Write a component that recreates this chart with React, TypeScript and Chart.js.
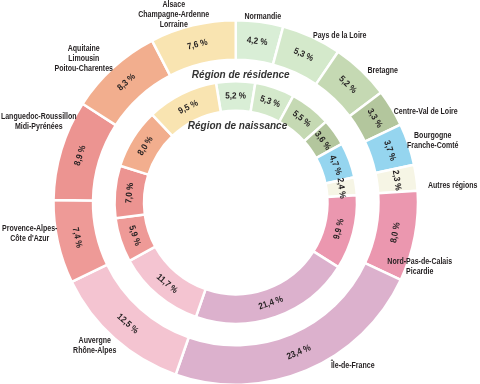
import React, { useEffect, useRef } from 'react';
import { Chart, registerables } from 'chart.js';

Chart.register(...registerables);

// ---- Data ----
const REGIONS: string[][] = [
  ['Normandie'],
  ['Pays de la Loire'],
  ['Bretagne'],
  ['Centre-Val de Loire'],
  ['Bourgogne', 'Franche-Comté'],
  ['Autres régions'],
  ['Nord-Pas-de-Calais', 'Picardie'],
  ['Île-de-France'],
  ['Auvergne', 'Rhône-Alpes'],
  ['Provence-Alpes-', "Côte d'Azur"],
  ['Languedoc-Roussillon', 'Midi-Pyrénées'],
  ['Aquitaine', 'Limousin', 'Poitou-Charentes'],
  ['Alsace', 'Champagne-Ardenne', 'Lorraine'],
];
const RESIDENCE = [4.2, 5.3, 5.2, 3.3, 3.7, 2.3, 8.0, 23.4, 12.5, 7.4, 8.9, 8.3, 7.6];
const NAISSANCE = [5.2, 5.3, 5.5, 3.6, 4.7, 2.4, 9.9, 21.4, 11.7, 5.9, 7.0, 8.0, 9.5];
const TITLES = ['Région de résidence', 'Région de naissance'];

// ---- Styles / layout ----
const COLORS = [
  '#d9eed6', '#d4e9cb', '#c5d9b3', '#b3c69d', '#95d5ef', '#f6f5e5', '#eb97af',
  '#dcb1cd', '#f4c4d1', '#ee9a97', '#ec9491', '#f2ae8e', '#f9e4b1',
];
// first-line centre of each region label, relative to the chart centre
const LABEL_OFFSETS: [number, number][] = [
  [27, -185.5], [104, -166.5], [147, -131.5], [190, -90.5], [197, -66.5], [217, -16.5],
  [184, 59.5], [117, 163], [-141, 138.5], [-206, 26.5], [-197, -85.5], [-152, -153.5], [-62, -197.5],
];
const TITLE_OFFSETS: [number, number][] = [[5, -127.5], [1.75, -75.8]];
const LINE_H = 9.7;
const LABEL_FONT = "bold 9px 'Liberation Sans', Arial, sans-serif";
const LABEL_SCALE_X = 0.78;
const VALUE_FONT = "bold 9px 'Liberation Sans', Arial, sans-serif";
const VALUE_SCALE_X = 0.9;
const TITLE_FONT = "italic bold 10px 'Liberation Sans', Arial, sans-serif";
const TEXT_COLOR = '#231f20';

const fmt = (v: number) => v.toFixed(1).replace('.', ',') + ' %';

const labelsPlugin = {
  id: 'ringLabels',
  afterDatasetsDraw(chart: any) {
    const ctx: CanvasRenderingContext2D = chart.ctx;
    const first = chart.getDatasetMeta(0).data[0];
    const cx = first.x;
    const cy = first.y;
    ctx.save();
    ctx.textAlign = 'center';
    ctx.textBaseline = 'middle';
    ctx.fillStyle = TEXT_COLOR;
    ctx.font = VALUE_FONT;
    [0, 2].forEach((di) => {
      const meta = chart.getDatasetMeta(di);
      const vals = chart.data.datasets[di].data as number[];
      meta.data.forEach((arc: any, i: number) => {
        const p = arc.getProps(['x', 'y', 'startAngle', 'endAngle', 'innerRadius', 'outerRadius'], true);
        const mid = (p.startAngle + p.endAngle) / 2;
        const r = (p.innerRadius + p.outerRadius) / 2;
        const TAU = Math.PI * 2;
        let rot = (((mid + Math.PI / 2) % TAU) + TAU) % TAU;
        if (rot > Math.PI / 2 && rot < (3 * Math.PI) / 2) rot -= Math.PI;
        ctx.save();
        ctx.translate(p.x + r * Math.cos(mid), p.y + r * Math.sin(mid));
        ctx.rotate(rot);
        ctx.scale(VALUE_SCALE_X, 1);
        ctx.fillText(fmt(vals[i]), 0, 0);
        ctx.restore();
      });
    });
    ctx.font = LABEL_FONT;
    REGIONS.forEach((lines, i) => {
      const [dx, dy] = LABEL_OFFSETS[i];
      lines.forEach((t, j) => {
        ctx.save();
        ctx.translate(cx + dx, cy + dy + j * LINE_H);
        ctx.scale(LABEL_SCALE_X, 1);
        ctx.fillText(t, 0, 0);
        ctx.restore();
      });
    });
    ctx.font = TITLE_FONT;
    ctx.fillStyle = '#333333';
    TITLES.forEach((t, i) => {
      const [dx, dy] = TITLE_OFFSETS[i];
      ctx.fillText(t, cx + dx, cy + dy);
    });
    ctx.restore();
  },
};

export default function App() {
  const ref = useRef<HTMLCanvasElement>(null);
  useEffect(() => {
    if (!ref.current) return;
    const labels = REGIONS.map((l) => l.join(' '));
    const chart = new Chart(ref.current, {
      type: 'doughnut',
      data: {
        labels,
        datasets: [
          {
            label: TITLES[0],
            data: RESIDENCE,
            backgroundColor: COLORS,
            borderColor: '#ffffff',
            borderWidth: 2.5,
            weight: 39.5,
            rotation: 0,
          } as any,
          {
            label: 'spacer',
            data: [1],
            backgroundColor: 'rgba(0,0,0,0)',
            borderWidth: 0,
            weight: 21.5,
          } as any,
          {
            label: TITLES[1],
            data: NAISSANCE,
            backgroundColor: COLORS,
            borderColor: '#ffffff',
            borderWidth: 2.5,
            weight: 29.5,
            rotation: -9.4,
          } as any,
        ],
      },
      options: {
        responsive: false,
        animation: false,
        devicePixelRatio: 1,
        radius: 182.25,
        cutout: '50.34%',
        layout: { padding: { left: 0, right: 8.5, top: 21, bottom: 0 } },
        plugins: {
          legend: { display: false },
          tooltip: { enabled: false },
        },
        events: [],
      } as any,
      plugins: [labelsPlugin],
    });
    return () => chart.destroy();
  }, []);
  return (
    <div style={{ position: 'absolute', left: 0, top: 0, width: 480, height: 384, background: '#fff' }}>
      <canvas ref={ref} width={480} height={384} />
    </div>
  );
}
